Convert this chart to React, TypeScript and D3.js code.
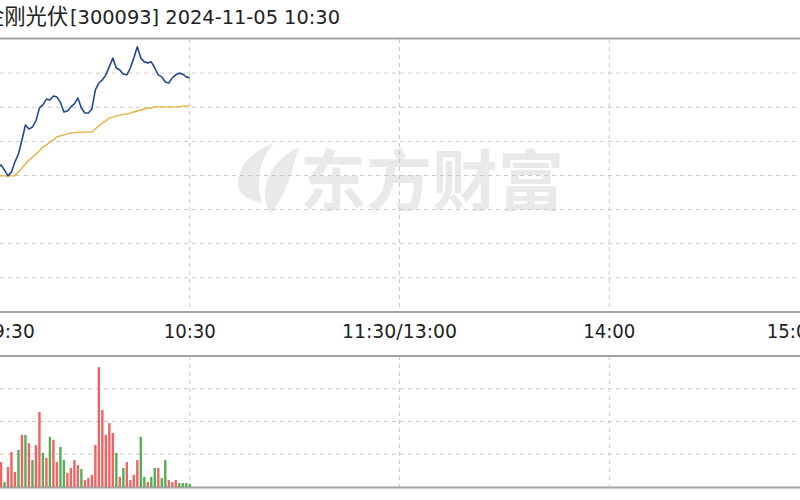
import React from 'react';
import * as d3 from 'd3';

// minute index 0 = 9:30, 60 = 10:30, 240 = 15:00
const tickMinutes = [0, 60, 120, 180, 240];
const tickLabels = ['9:30', '10:30', '11:30/13:00', '14:00', '15:00'];

// price change in %, one value per minute from 9:30 to 10:30
const priceSeries = [
  -0.01, 0.04, -0.04, 0.10, 0.16, 0.22, 0.31, 0.16, -0.01, 0.10,
  0.40, 0.63, 1.04, 1.48, 1.36, 1.42, 1.60, 1.98, 2.07, 2.24,
  2.21, 2.33, 2.30, 2.15, 1.86, 1.89, 2.01, 2.10, 2.27, 1.98,
  1.83, 1.83, 1.95, 2.51, 2.71, 2.80, 2.95, 3.19, 3.44, 3.15,
  3.09, 2.97, 2.95, 3.15, 3.44, 3.77, 3.44, 3.33, 3.30, 3.33,
  3.15, 2.95, 2.89, 2.74, 2.71, 2.86, 2.95, 3.00, 2.97, 2.89,
  2.86,
];

// average price line, same units
const avgSeries = [
  -0.01, -0.01, -0.01, -0.01, -0.01, -0.01, -0.01, -0.01, -0.01, -0.01,
  -0.01, 0.10, 0.22, 0.34, 0.45, 0.54, 0.63, 0.72, 0.84, 0.89,
  0.98, 1.04, 1.13, 1.16, 1.19, 1.22, 1.25, 1.25, 1.27, 1.27,
  1.27, 1.27, 1.27, 1.36, 1.45, 1.54, 1.60, 1.69, 1.71, 1.74,
  1.77, 1.80, 1.80, 1.83, 1.86, 1.89, 1.92, 1.95, 1.98, 1.98,
  2.01, 2.01, 2.01, 2.01, 2.01, 2.01, 2.01, 2.01, 2.04, 2.04,
  2.04,
];

// volume per minute (arbitrary units) and its up / down flag
const volumeSeries = [
  3.9, 1.8, 1.2, 0.9, 1.4, 0.7, 0.76, 0.15, 0.61, 1.07,
  0.46, 1.13, 1.59, 1.59, 1.34, 0.82, 1.28, 2.29, 1.04, 0.89,
  1.53, 1.44, 0.76, 1.22, 0.82, 0.43, 0.58, 0.82, 0.67, 0.55,
  0.21, 0.27, 0.37, 1.28, 3.66, 2.35, 1.59, 1.95, 1.65, 1.04,
  0.31, 0.58, 0.76, 0.21, 0.37, 0.82, 1.53, 0.31, 0.15, 0.31,
  0.58, 0.58, 0.27, 0.82, 0.21, 0.15, 0.21, 0.12, 0.12, 0.12,
  0.09,
];
const volumeDir = [
  'u', 'd', 'u', 'd', 'u', 'u', 'u', 'd', 'u', 'u',
  'u', 'd', 'u', 'd', 'u', 'd', 'u', 'u', 'd', 'u',
  'd', 'u', 'u', 'd', 'd', 'u', 'u', 'u', 'u', 'd',
  'u', 'u', 'u', 'u', 'u', 'u', 'u', 'u', 'u', 'd',
  'u', 'd', 'u', 'u', 'u', 'u', 'd', 'd', 'u', 'd',
  'd', 'u', 'd', 'd', 'u', 'u', 'u', 'd', 'd', 'd',
  'd',
];

const priceGrid = [-3, -2, -1, 0, 1, 2, 3];
const volumeGrid = [1, 2, 3];

const W = 800;
const H = 500;

const x = d3.scaleLinear().domain([0, 240]).range([-20, 819]);
const yPrice = d3.scaleLinear().domain([-4, 4]).range([312, 39]);
const yVol = d3.scaleLinear().domain([0, 4]).range([487, 356]);

const GRID = '#c9c9c9';
const BORDER = '#a3a3a3';

const App: React.FC = () => {
  const priceLine = d3
    .line<number>()
    .x((_, i) => x(i))
    .y((d) => yPrice(d));

  const labelW = (s: string) => s.length * 10.45;

  return (
    <svg
      width={W}
      height={H}
      viewBox={`0 0 ${W} ${H}`}
      style={{ position: 'absolute', left: 0, top: 0, background: '#fff' }}
    >
      {/* title */}
      <text
        x={-17}
        y={24}
        fontFamily="'Noto Sans CJK SC', sans-serif"
        fontSize={21.3}
        fill="#222"
      >
        金刚光伏
      </text>
      <text
        x={70}
        y={24}
        fontFamily="'DejaVu Sans', sans-serif"
        fontSize={19.5}
        fill="#222"
        textLength={270}
        lengthAdjust="spacingAndGlyphs"
      >
        [300093] 2024-11-05 10:30
      </text>

      {/* watermark */}
      <g fill="#e9e9e9">
        <path d="M238 186 C237 165 253 151 274 143 C262 157 254 176 262 203 C249 200 239 195 238 186 Z" />
        <path d="M268 209 C259 187 271 160 299 147 C293 165 289 191 271 213 Z" />
        <text
          x={300}
          y={205}
          fontFamily="'Noto Sans CJK SC', sans-serif"
          fontWeight={700}
          fontSize={66}
        >
          东方财富
        </text>
      </g>

      {/* price grid */}
      <g stroke={GRID} strokeWidth={1} strokeDasharray="4,4">
        {priceGrid.map((v) => (
          <line key={`hp${v}`} x1={0} x2={W} y1={yPrice(v)} y2={yPrice(v)} />
        ))}
        {tickMinutes.slice(1, -1).map((m) => (
          <line key={`vp${m}`} x1={x(m)} x2={x(m)} y1={39} y2={312} />
        ))}
      </g>

      {/* volume grid */}
      <g stroke={GRID} strokeWidth={1} strokeDasharray="4,4">
        {volumeGrid.map((v) => (
          <line key={`hv${v}`} x1={0} x2={W} y1={yVol(v)} y2={yVol(v)} />
        ))}
        {tickMinutes.slice(1, -1).map((m) => (
          <line key={`vv${m}`} x1={x(m)} x2={x(m)} y1={356} y2={487} />
        ))}
      </g>

      {/* borders */}
      <g stroke={BORDER} strokeWidth={2}>
        <line x1={0} x2={W} y1={38.5} y2={38.5} />
        <line x1={0} x2={W} y1={312} y2={312} />
        <line x1={0} x2={W} y1={356} y2={356} />
        <line x1={0} x2={W} y1={487.5} y2={487.5} />
      </g>

      {/* lines */}
      <path
        d={priceLine(avgSeries) || ''}
        fill="none"
        stroke="#e3b23c"
        strokeWidth={1.4}
      />
      <path
        d={priceLine(priceSeries) || ''}
        fill="none"
        stroke="#244a8c"
        strokeWidth={1.6}
        strokeLinejoin="round"
      />

      {/* volume bars */}
      <g>
        {volumeSeries.map((v, i) => (
          <rect
            key={`b${i}`}
            x={x(i) - 1.2}
            width={2.4}
            y={yVol(v)}
            height={yVol(0) - yVol(v)}
            fill={volumeDir[i] === 'u' ? '#ee6464' : '#55ad55'}
          />
        ))}
      </g>

      {/* time labels */}
      <g fontFamily="'DejaVu Sans', sans-serif" fontSize={20} fill="#222">
        {tickLabels.map((t, i) => {
          const m = tickMinutes[i];
          const w = labelW(t);
          let left = x(m) - w / 2;
          if (i === 0) left = x(m) + 13;
          if (i === tickLabels.length - 1) left = x(m) - w;
          return (
            <text
              key={t}
              x={left}
              y={338}
              textLength={w}
              lengthAdjust="spacingAndGlyphs"
            >
              {t}
            </text>
          );
        })}
      </g>
    </svg>
  );
};

export default App;
